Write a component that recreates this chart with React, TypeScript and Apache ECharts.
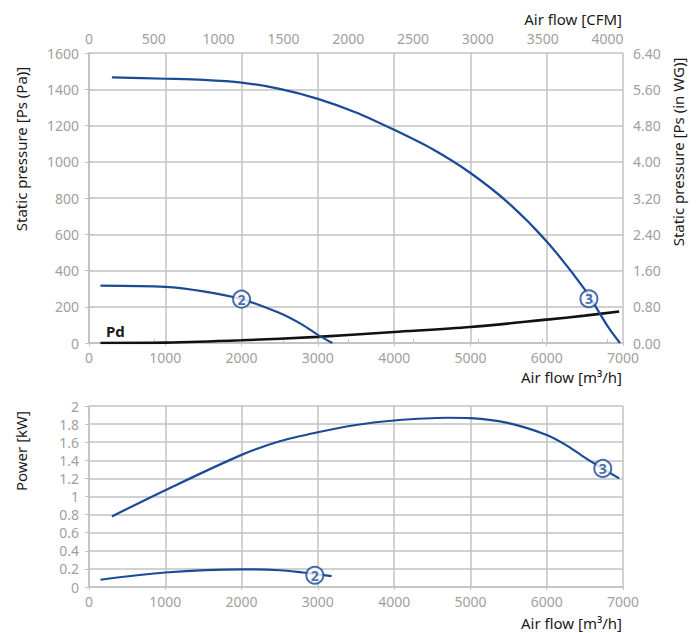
import React, { useEffect, useRef } from "react";
import * as echarts from "echarts";

// Static pressure, curve 3 (m³/h, Pa)
const flowPs3 = [300, 1000, 1500, 2000, 2500, 3000, 3500, 4000, 4500, 5000, 5500, 6000, 6500, 6800, 6960];
const ps3 = [1465, 1458, 1452, 1437, 1402, 1347, 1272, 1176, 1070, 938, 772, 560, 294, 92, 0];
// Static pressure, curve 2
const flowPs2 = [150, 1000, 1500, 2000, 2500, 2800, 3000, 3190];
const ps2 = [317, 310, 285, 242, 165, 100, 45, 0];
// Dynamic pressure Pd
const flowPd = [150, 1000, 2000, 3000, 4000, 5000, 6000, 6500, 6950];
const pd = [0, 2, 15, 34, 61, 88, 129, 151, 174];
// Power, curve 3 (kW)
const flowPw3 = [300, 1000, 2000, 2500, 3000, 3500, 4000, 4700, 5000, 5500, 6000, 6250, 6500, 6950];
const pw3 = [0.78, 1.07, 1.46, 1.61, 1.71, 1.79, 1.84, 1.87, 1.865, 1.81, 1.68, 1.57, 1.43, 1.2];
// Power, curve 2
const flowPw2 = [150, 1000, 2000, 2500, 2800, 3000, 3180];
const pw2 = [0.08, 0.16, 0.195, 0.185, 0.16, 0.14, 0.12];
// Curve number markers
const markerPs = [
  { name: "2", x: 2000, y: 242 },
  { name: "3", x: 6553, y: 244 },
];
const markerPw = [
  { name: "2", x: 2960, y: 0.13 },
  { name: "3", x: 6735, y: 1.31 },
];
// Axis ranges
const flowMax = 7000;
const cfmMax = 4120;
const paMax = 1600;
const wgMax = 6.4;
const kwMax = 2;

const BLUE = "#1b4a97";
const GRID = "#c2c2c2";
const LABEL = "#a0a0a0";
const FONT = "'Noto Sans', 'Open Sans', sans-serif";

const zip = (xs: number[], ys: number[]) => xs.map((x, i) => [x, ys[i]]);

export default function App() {
  const ref = useRef<HTMLDivElement>(null);
  useEffect(() => {
    if (!ref.current) return;
    const chart = echarts.init(ref.current, null, { renderer: "svg" });
    const plain = (v: number) => String(v);
    const axisLabel = { color: LABEL, fontSize: 14, fontFamily: FONT, formatter: plain };
    const axisLine = { show: true, lineStyle: { color: GRID, width: 1.5 } };
    const splitLine = { show: true, lineStyle: { color: GRID, width: 1.5 } };
    const lineSeries = (xi: number, yi: number, data: number[][], color: string, width = 2.2) => ({
      type: "line",
      xAxisIndex: xi,
      yAxisIndex: yi,
      data,
      smooth: 0.3,
      symbol: "none",
      lineStyle: { color, width },
      z: 2,
    });
    const markerSeries = (xi: number, yi: number, pts: { name: string; x: number; y: number }[]) => ({
      type: "scatter",
      xAxisIndex: xi,
      yAxisIndex: yi,
      data: pts.map((p) => ({ value: [p.x, p.y], name: p.name })),
      symbol: "circle",
      symbolSize: 17,
      itemStyle: { color: "#ffffff", borderColor: BLUE, borderWidth: 2 },
      label: {
        show: true,
        position: "inside",
        formatter: (p: any) => p.name,
        color: BLUE,
        fontSize: 14,
        fontWeight: "bold",
        fontFamily: FONT,
      },
      z: 5,
    });
    const nameText = (text: string, x: number, y: number, align: string, rotate = 0, bold = false) => ({
      type: "text",
      x,
      y,
      rotation: rotate,
      style: {
        text,
        fill: "#1a1a1a",
        font: `${bold ? "bold " : ""}15px ${FONT}`,
        textAlign: align,
        textVerticalAlign: "middle",
      },
    });
    chart.setOption({
      animation: false,
      grid: [
        { left: 89, right: 76, top: 53, height: 290 },
        { left: 89, right: 76, top: 406, height: 181 },
      ],
      xAxis: [
        {
          type: "value", gridIndex: 0, min: 0, max: flowMax, interval: 1000, position: "bottom",
          axisLabel: { ...axisLabel, margin: 7 }, axisLine, axisTick: { show: true, length: 3, lineStyle: { color: GRID } }, splitLine,
        },
        {
          type: "value", gridIndex: 0, min: 0, max: cfmMax, interval: 500, position: "top",
          axisLabel: { ...axisLabel, margin: 8 }, axisLine, axisTick: { show: true, length: 4, lineStyle: { color: GRID } }, splitLine: { show: false },
        },
        {
          type: "value", gridIndex: 1, min: 0, max: flowMax, interval: 1000, position: "bottom",
          axisLabel: { ...axisLabel, margin: 7 }, axisLine, axisTick: { show: true, length: 3, lineStyle: { color: GRID } }, splitLine,
        },
      ],
      yAxis: [
        {
          type: "value", gridIndex: 0, min: 0, max: paMax, interval: 200, position: "left",
          axisLabel: { ...axisLabel, margin: 10 }, axisLine, axisTick: { show: true, length: 4, lineStyle: { color: GRID } }, splitLine,
        },
        {
          type: "value", gridIndex: 0, min: 0, max: wgMax, interval: 0.8, position: "right",
          axisLabel: { ...axisLabel, margin: 10, formatter: (v: number) => v.toFixed(2) }, axisLine,
          axisTick: { show: true, length: 4, lineStyle: { color: GRID } }, splitLine: { show: false },
        },
        {
          type: "value", gridIndex: 1, min: 0, max: kwMax, interval: 0.2, position: "left",
          axisLabel: { ...axisLabel, margin: 10, formatter: (v: number) => String(+v.toFixed(1)) }, axisLine,
          axisTick: { show: true, length: 4, lineStyle: { color: GRID } }, splitLine,
        },
      ],
      series: [
        lineSeries(0, 0, zip(flowPd, pd), "#111111", 2.6),
        lineSeries(0, 0, zip(flowPs3, ps3), BLUE),
        lineSeries(0, 0, zip(flowPs2, ps2), BLUE),
        lineSeries(2, 2, zip(flowPw3, pw3), BLUE),
        lineSeries(2, 2, zip(flowPw2, pw2), BLUE),
        markerSeries(0, 0, markerPs),
        markerSeries(2, 2, markerPw),
      ],
      graphic: [
        nameText("Air flow [CFM]", 622, 19, "right"),
        nameText("Air flow [m³/h]", 622, 377, "right"),
        nameText("Air flow [m³/h]", 622, 623, "right"),
        nameText("Static pressure [Ps (Pa)]", 21, 149, "center", Math.PI / 2),
        nameText("Static pressure [Ps (in WG)]", 678, 152, "center", Math.PI / 2),
        nameText("Power [kW]", 21, 451, "center", Math.PI / 2),
        nameText("Pd", 106, 331, "left", 0, true),
      ],
    });
    return () => chart.dispose();
  }, []);
  return <div ref={ref} style={{ width: 699, height: 633, position: "absolute", left: 0, top: 0 }} />;
}
